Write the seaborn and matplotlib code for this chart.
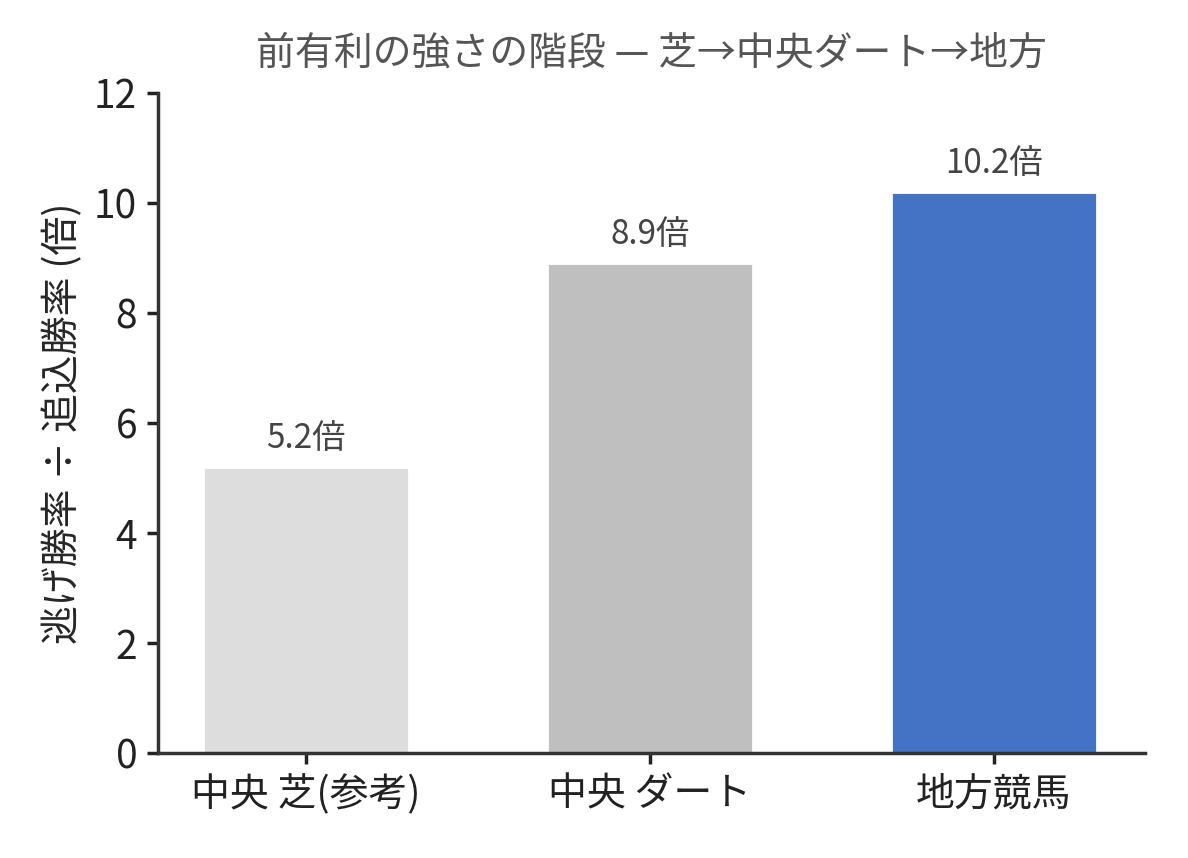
import matplotlib
matplotlib.use("Agg")
import matplotlib.pyplot as plt
import seaborn as sns
import pandas as pd

categories = ["中央 芝(参考)", "中央 ダート", "地方競馬"]
ratios = [5.2, 8.9, 10.2]
bar_labels = ["5.2倍", "8.9倍", "10.2倍"]
colors = ["#dddddd", "#bfbfbf", "#4472c4"]

sns.set_theme(style="ticks")
plt.rcParams["font.family"] = ["Noto Sans CJK JP", "DejaVu Sans"]

df = pd.DataFrame({"cat": categories, "ratio": ratios})
fig = plt.figure(figsize=(5.94, 4.29), dpi=200)
ax = fig.add_axes([0.133, 0.122, 0.831, 0.770])
sns.barplot(data=df, x="cat", y="ratio", hue="cat", palette=colors, legend=False,
            width=0.6, saturation=1, ax=ax)
for i, (v, t) in enumerate(zip(ratios, bar_labels)):
    ax.text(i, v + 0.2, t, ha="center", va="bottom", fontsize=12, color="#444444")
ax.set_xlim(-0.43, 2.44)
ax.set_ylim(0, 12)
ax.set_yticks(range(0, 13, 2))
ax.tick_params(labelsize=14, colors="#222222", length=4)
ax.set_xlabel("")
ax.set_ylabel("逃げ勝率 ÷ 追込勝率 (倍)", fontsize=14)
ax.set_title("前有利の強さの階段 — 芝→中央ダート→地方", fontsize=14, color="#555555", pad=10)
for s in ["top", "right"]:
    ax.spines[s].set_visible(False)
for s in ["left", "bottom"]:
    ax.spines[s].set_color("#333333")
fig.savefig("out.png", dpi=200)
